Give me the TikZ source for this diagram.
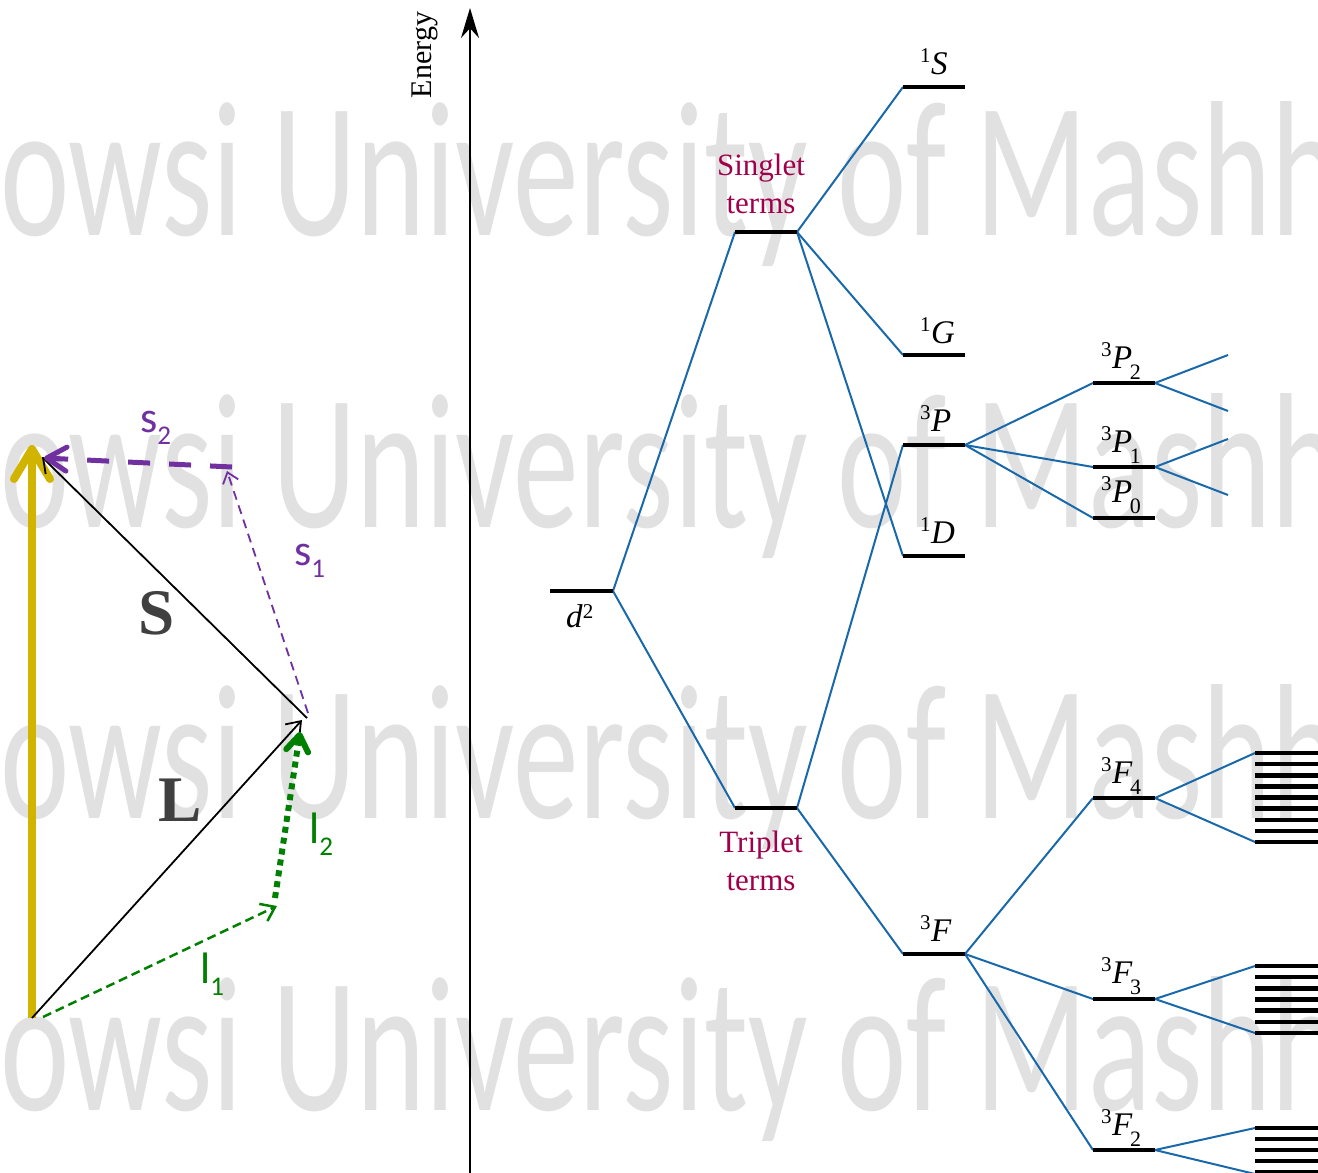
\documentclass[tikz,border=0pt]{standalone}
\usepackage{fontspec}
\usepackage{graphicx}
\setmainfont{Liberation Serif}
\newfontfamily\wmfont{Carlito}
\usetikzlibrary{arrows.meta}
\definecolor{wmgray}{RGB}{225,225,225}
\definecolor{lvlblue}{RGB}{25,105,170}
\definecolor{crim}{RGB}{160,0,75}
\definecolor{vpurple}{RGB}{112,48,160}
\definecolor{vgreen}{RGB}{0,128,0}
\definecolor{vyellow}{RGB}{208,180,0}
\definecolor{vlabel}{RGB}{64,64,64}
\newcommand{\tsupx}[2]{\raisebox{12pt}{\fontsize{21pt}{21pt}\selectfont #1}\kern0.5pt\textit{#2}}
\newcommand{\tsubx}[3]{\tsupx{#1}{#2}\kern-2.5pt\raisebox{-11pt}{\fontsize{22pt}{22pt}\selectfont #3}}
\newcommand{\vlab}[2]{{\wmfont\fontsize{44pt}{44pt}\selectfont #1\raisebox{-12pt}{\fontsize{27pt}{27pt}\selectfont #2}}}
\begin{document}
\begin{tikzpicture}[x=1pt,y=-1pt,
  wm/.style={anchor=base west,inner sep=0pt,text=wmgray},
  level/.style={line width=4.5pt},
  conn/.style={draw=lvlblue,line width=2pt},
  trm/.style={anchor=base west,inner sep=0pt,font=\fontsize{33pt}{33pt}\selectfont},
  grp/.style={anchor=base,inner sep=0pt,text=crim,font=\fontsize{31pt}{31pt}\selectfont},
  thinarrow/.style={-{Straight Barb[length=13pt,width=19pt]}},
  bigvec/.style={anchor=center,inner sep=0pt,text=vlabel,font=\fontsize{65pt}{65pt}\selectfont\bfseries}
]
\useasboundingbox (0,0) rectangle (1318,1173);
\clip (0,0) rectangle (1318,1173);
\fill[white] (0,0) rectangle (1318,1173);

% watermark
\foreach \yy/\nm in {235/wma,527/wmb,818/wmc,1110/wmd}{
  \node[wm] (\nm) at (0,\yy) {\scalebox{0.68}[1]{\wmfont\fontsize{193pt}{193pt}\selectfont owsi University of Mashh}};
}

% ---------- vector diagram ----------
\coordinate (O) at (32,1018);
\coordinate (Yt) at (32,445);
\coordinate (Lt) at (302,720);
\coordinate (Sb) at (307,718);
\coordinate (St) at (42,457);
\coordinate (l1s) at (43,1017);
\coordinate (l1t) at (277,906);
\coordinate (l2s) at (275,898);
\coordinate (l2t) at (300,732);
\coordinate (s1s) at (308,713);
\coordinate (s1t) at (227,471);
\coordinate (s2s) at (232,467);
\coordinate (s2t) at (44,458);

\draw[vyellow,line width=8pt,-{Straight Barb[round,length=30pt,width=36pt]}] (O) -- (Yt);
\draw[black,line width=1.8pt,thinarrow] (O) -- (Lt);
\draw[black,line width=1.8pt,thinarrow] (Sb) -- (St);
\draw[vgreen,line width=2.5pt,dash pattern=on 9pt off 5pt,thinarrow] (l1s) -- (l1t);
\draw[vgreen,line width=6pt,dash pattern=on 6pt off 5pt,-{Straight Barb[round,length=16pt,width=22pt]}] (l2s) -- (l2t);
\draw[vpurple,line width=1.8pt,dash pattern=on 9pt off 6pt,-{Straight Barb[length=10pt,width=16pt]}] (s1s) -- (s1t);
\draw[vpurple,line width=5pt,dash pattern=on 22pt off 19pt,-{Straight Barb[round,length=20pt,width=24pt]}] (s2s) -- (s2t);

\node[bigvec] (Slab) at (157,613) {S};
\node[bigvec] (Llab) at (180,800) {L};
\node[anchor=base west,inner sep=0pt,text=vpurple] (s2lab) at (140,432) {\vlab{s}{2}};
\node[anchor=base west,inner sep=0pt,text=vpurple] (s1lab) at (294,565) {\vlab{s}{1}};
\node[anchor=base west,inner sep=0pt,text=vgreen] (l2lab) at (309,843) {\vlab{l}{2}};
\node[anchor=base west,inner sep=0pt,text=vgreen] (l1lab) at (200,983) {\vlab{l}{1}};

% ---------- energy axis ----------
\coordinate (Eb) at (470,1173);
\coordinate (Et) at (470,8);
\draw[line width=2pt,-{Stealth[length=30pt,width=18pt]}] (Eb) -- (Et);
\node[rotate=90,inner sep=0pt,font=\fontsize{30pt}{30pt}\selectfont] (elab) at (425,55) {Energy};

% ---------- levels ----------
\coordinate (d2L) at (550,591); \coordinate (d2R) at (613,591);
\coordinate (sgL) at (735,232); \coordinate (sgR) at (797,232);
\coordinate (trL) at (735,808); \coordinate (trR) at (797,808);
\coordinate (S1L) at (903,87);  \coordinate (S1R) at (965,87);
\coordinate (G1L) at (903,355); \coordinate (G1R) at (965,355);
\coordinate (P3L) at (903,445); \coordinate (P3R) at (965,445);
\coordinate (D1L) at (903,556); \coordinate (D1R) at (965,556);
\coordinate (F3L) at (903,954); \coordinate (F3R) at (965,954);
\coordinate (PtwoL) at (1093,383); \coordinate (PtwoR) at (1155,383);
\coordinate (PoneL) at (1093,467); \coordinate (PoneR) at (1155,467);
\coordinate (PzeroL) at (1093,518); \coordinate (PzeroR) at (1155,518);
\coordinate (FfourL) at (1093,798); \coordinate (FfourR) at (1155,798);
\coordinate (FthreeL) at (1093,999); \coordinate (FthreeR) at (1155,999);
\coordinate (FtwoL) at (1093,1150); \coordinate (FtwoR) at (1155,1150);
\coordinate (p2u) at (1228,355); \coordinate (p2d) at (1228,411);
\coordinate (p1u) at (1228,439); \coordinate (p1d) at (1228,495);
\coordinate (f4u) at (1255,753); \coordinate (f4d) at (1255,842);
\coordinate (f3u) at (1255,966); \coordinate (f3d) at (1255,1033);
\coordinate (f2u) at (1255,1128); \coordinate (f2d) at (1255,1174);

% connectors
\draw[conn] (d2R) -- (sgL);
\draw[conn] (d2R) -- (trL);
\draw[conn] (sgR) -- (S1L);
\draw[conn] (sgR) -- (G1L);
\draw[conn] (sgR) -- (D1L);
\draw[conn] (trR) -- (P3L);
\draw[conn] (trR) -- (F3L);
\draw[conn] (P3R) -- (PtwoL);
\draw[conn] (P3R) -- (PoneL);
\draw[conn] (P3R) -- (PzeroL);
\draw[conn] (PtwoR) -- (p2u);
\draw[conn] (PtwoR) -- (p2d);
\draw[conn] (PoneR) -- (p1u);
\draw[conn] (PoneR) -- (p1d);
\draw[conn] (F3R) -- (FfourL);
\draw[conn] (F3R) -- (FthreeL);
\draw[conn] (F3R) -- (FtwoL);
\draw[conn] (FfourR) -- (f4u);
\draw[conn] (FfourR) -- (f4d);
\draw[conn] (FthreeR) -- (f3u);
\draw[conn] (FthreeR) -- (f3d);
\draw[conn] (FtwoR) -- (f2u);
\draw[conn] (FtwoR) -- (f2d);

% level bars
\foreach \a/\b in {d2L/d2R,sgL/sgR,trL/trR,S1L/S1R,G1L/G1R,P3L/P3R,D1L/D1R,F3L/F3R,PtwoL/PtwoR,PoneL/PoneR,PzeroL/PzeroR,FfourL/FfourR,FthreeL/FthreeR,FtwoL/FtwoR}{
  \draw[level] (\a) -- (\b);
}
% fine-structure stacks
\foreach \i in {0,...,8}{ \draw[level] (1255,753+\i*11.125) -- (1320,753+\i*11.125); }
\foreach \i in {0,...,6}{ \draw[level] (1255,966+\i*11.17) -- (1320,966+\i*11.17); }
\foreach \i in {0,...,4}{ \draw[level] (1255,1128+\i*11) -- (1320,1128+\i*11); }

% labels
\node[grp] (sg1) at (761,175) {Singlet};
\node[grp] (sg2) at (761,213) {terms};
\node[grp] (tr1) at (761,852) {Triplet};
\node[grp] (tr2) at (761,890) {terms};
\node[trm] (d2lab) at (566,627) {\textit{d}\raisebox{9pt}{\fontsize{21pt}{21pt}\selectfont 2}};
\node[trm] (S1lab) at (920,74) {\tsupx{1}{S}};
\node[trm] (G1lab) at (920,343) {\tsupx{1}{G}};
\node[trm] (P3lab) at (920,431) {\tsupx{3}{P}};
\node[trm] (D1lab) at (920,543) {\tsupx{1}{D}};
\node[trm] (F3lab) at (920,941) {\tsupx{3}{F}};
\node[trm] (P2lab) at (1101,368) {\tsubx{3}{P}{2}};
\node[trm] (P1lab) at (1101,452) {\tsubx{3}{P}{1}};
\node[trm] (P0lab) at (1101,502) {\tsubx{3}{P}{0}};
\node[trm] (F4lab) at (1101,783) {\tsubx{3}{F}{4}};
\node[trm] (F3jlab) at (1101,983) {\tsubx{3}{F}{3}};
\node[trm] (F2lab) at (1101,1135) {\tsubx{3}{F}{2}};
\end{tikzpicture}
\end{document}
